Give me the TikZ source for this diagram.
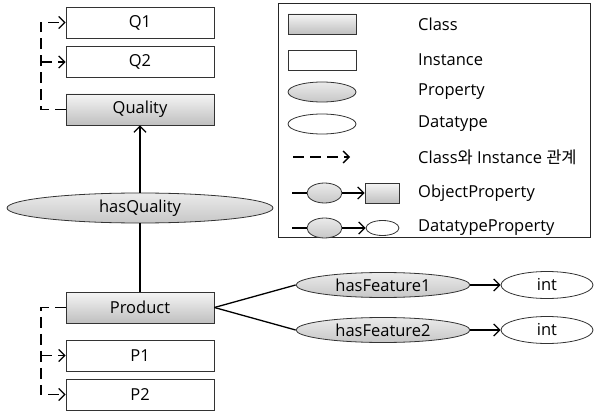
\documentclass[tikz,border=0pt]{standalone}
\usepackage{fontspec}
\setmainfont{Open Sans}
\newfontfamily\krfont{Noto Sans CJK KR}
\usepackage{tikz}
\usetikzlibrary{arrows.meta, positioning, shapes.geometric}

\begin{document}
\begin{tikzpicture}[
    x=1pt, y=-1pt,
    font=\fontsize{16.5}{19}\selectfont,
    classbox/.style={rectangle, draw=black!80, line width=0.8pt, inner sep=0pt,
        minimum width=148pt, minimum height=31pt, top color=white!96!black, bottom color=black!25},
    instbox/.style={rectangle, draw=black!80, line width=0.8pt, inner sep=0pt,
        minimum width=148pt, minimum height=31pt, fill=white},
    prop/.style={ellipse, draw=black!80, line width=0.8pt, inner sep=0pt,
        top color=black!8, bottom color=black!22},
    dtype/.style={ellipse, draw=black!80, line width=0.8pt, inner sep=0pt, fill=white},
    conn/.style={line width=1.3pt, -{Straight Barb[length=6pt, width=12pt]}},
    isa/.style={conn, dash pattern=on 11pt off 6pt},
    legtext/.style={anchor=west, inner sep=0pt}
]
    \useasboundingbox (0,0) rectangle (597,417);

    % quality side
    \node[instbox] (q1) at (140,22.5) {Q1};
    \node[instbox] (q2) at (140,62) {Q2};
    \node[classbox] (quality) at (140,109.5) {Quality};
    \coordinate (qbend) at (41,109.5);
    \draw[isa] (quality.west) -- (qbend) |- (q1.west);
    \draw[isa] (qbend |- q2.west) -- (q2.west);

    % product side
    \node[classbox] (product) at (140,307.5) {Product};
    \node[instbox] (p1) at (140,355.5) {P1};
    \node[instbox] (p2) at (140,394.5) {P2};
    \coordinate (pbend) at (41,307.5);
    \draw[isa] (product.west) -- (pbend) |- (p2.west);
    \draw[isa] (pbend |- p1.west) -- (p1.west);

    % properties
    \node[prop, minimum width=266pt, minimum height=30pt] (hasq) at (140,208) {hasQuality};
    \draw[line width=1.3pt] (product.north) -- (hasq.south);
    \draw[conn] (hasq.north) -- (quality.south);

    \node[prop, minimum width=174pt, minimum height=25pt] (hf1) at (383,285) {hasFeature1};
    \node[prop, minimum width=174pt, minimum height=25pt] (hf2) at (383,330) {hasFeature2};
    \node[dtype, minimum width=92pt, minimum height=27pt] (int1) at (547,285) {int};
    \node[dtype, minimum width=92pt, minimum height=27pt] (int2) at (547,330) {int};
    \draw[line width=1.3pt] (product.east) -- (hf1.west);
    \draw[line width=1.3pt] (product.east) -- (hf2.west);
    \draw[conn] (hf1.east) -- (int1.west);
    \draw[conn] (hf2.east) -- (int2.west);

    % legend
    \node[draw=black!85, line width=1pt, minimum width=312pt, minimum height=233pt, inner sep=0pt]
        (legend) at (434,120.5) {};
    \node[classbox, minimum width=68pt, minimum height=20pt] (lclass) at (322,24) {};
    \node[instbox, minimum width=68pt, minimum height=20pt] (linst) at (322,60) {};
    \node[prop, minimum width=68pt, minimum height=20pt] (lprop) at (322,92) {};
    \node[dtype, minimum width=68pt, minimum height=20pt] (ldtype) at (322,124) {};
    \coordinate (lda) at (293,157);
    \coordinate (ldb) at (350,157);
    \draw[isa] (lda) -- (ldb);
    \coordinate (loa) at (292,193);
    \node[prop, minimum width=35pt, minimum height=20pt] (lop) at (324.5,193) {};
    \node[classbox, minimum width=34pt, minimum height=20pt] (loc) at (382,193) {};
    \draw[line width=1.3pt] (loa) -- (lop.west);
    \draw[conn] (lop.east) -- (loc.west);
    \coordinate (lpa) at (292,228);
    \node[prop, minimum width=35pt, minimum height=20pt] (ldp) at (324.5,228) {};
    \node[dtype, minimum width=33pt, minimum height=15pt] (ldd) at (382.5,228) {};
    \draw[line width=1.3pt] (lpa) -- (ldp.west);
    \draw[conn] (ldp.east) -- (ldd.west);

    \node[legtext] (tclass) at (418,24) {Class};
    \node[legtext] (tinst) at (418,60) {Instance};
    \node[legtext] (tprop) at (418,92) {Property};
    \node[legtext] (tdtype) at (418,124) {Datatype};
    \node[legtext] (tisa) at (418,157) {Class{\krfont 와} Instance {\krfont 관계}};
    \node[legtext] (tobj) at (418,193) {ObjectProperty};
    \node[legtext] (tdat) at (418,228) {DatatypeProperty};
\end{tikzpicture}
\end{document}
